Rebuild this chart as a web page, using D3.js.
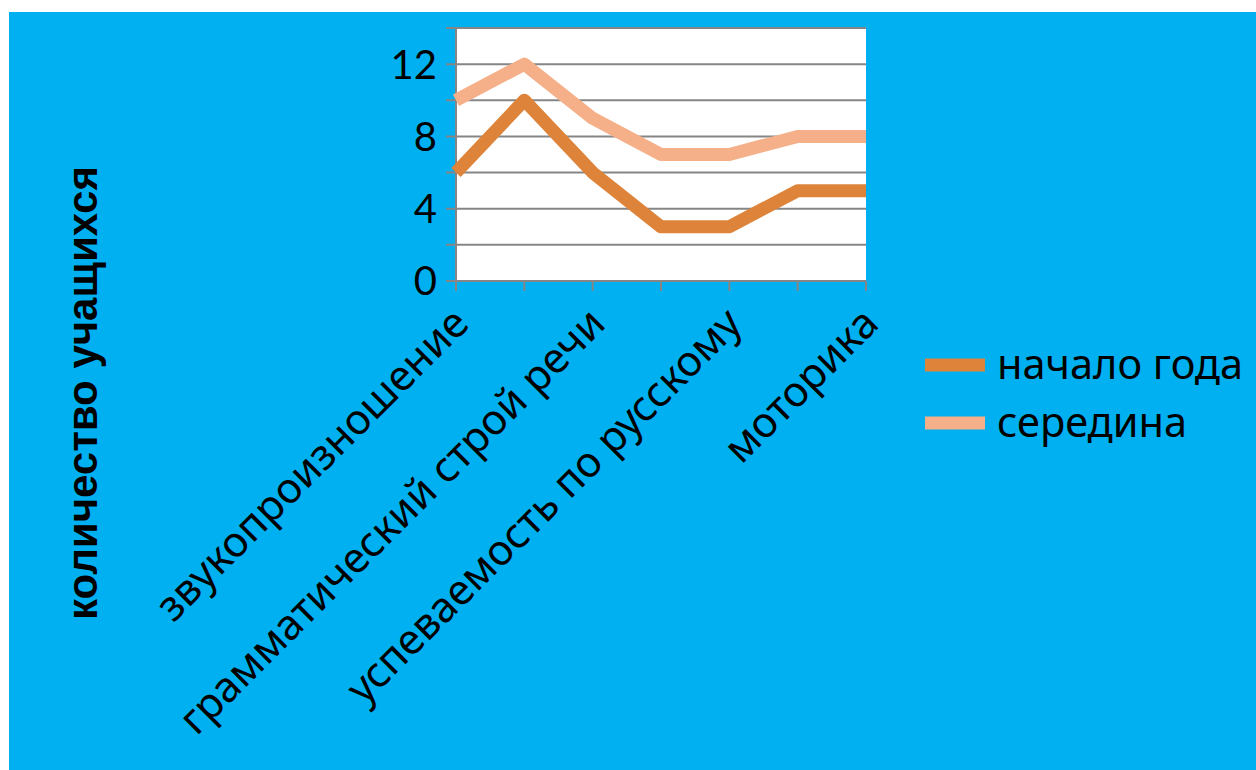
<!DOCTYPE html>
<html>
<head>
<meta charset="utf-8">
<script src="https://cdn.jsdelivr.net/npm/d3@7"></script>
<style>
  body { margin: 0; background: #fff; }
  svg { display: block; }
</style>
</head>
<body>
<script>
// categories (only every second one is labelled in the original)
var categories = ["звукопроизношение", "", "грамматический строй речи", "",
                  "успеваемость по русскому", "", "моторика"];
var seriesNames = ["начало года", "середина"];
var startValues = [6, 10, 6, 3, 3, 5, 5];
var midValues   = [10, 12, 9, 7, 7, 8, 8];
var yTicks = [0, 2, 4, 6, 8, 10, 12, 14];
var yLabels = [0, 4, 8, 12];

var width = 1256, height = 770;
var colors = ["#DD843A", "#F5B08A"];

var svg = d3.select("body").append("svg")
  .attr("width", width)
  .attr("height", height);

// blue background
svg.append("rect")
  .attr("x", 9).attr("y", 12)
  .attr("width", width - 9).attr("height", height - 12)
  .attr("fill", "#00B0F0");

var plot = { left: 456, right: 866, top: 28, bottom: 281 };

var x = d3.scalePoint()
  .domain(d3.range(categories.length))
  .range([plot.left, plot.right]);

var y = d3.scaleLinear()
  .domain([0, 14])
  .range([plot.bottom, plot.top]);

// plot area
svg.append("rect")
  .attr("x", plot.left).attr("y", plot.top)
  .attr("width", plot.right - plot.left)
  .attr("height", plot.bottom - plot.top)
  .attr("fill", "#fff");

// gridlines + y ticks
svg.selectAll("line.grid")
  .data(yTicks)
  .enter()
  .append("line")
  .attr("class", "grid")
  .attr("x1", plot.left - 10)
  .attr("x2", plot.right)
  .attr("y1", function(d) { return y(d); })
  .attr("y2", function(d) { return y(d); })
  .attr("stroke", "#868686")
  .attr("stroke-width", 2);

// y axis line
svg.append("line")
  .attr("x1", plot.left).attr("x2", plot.left)
  .attr("y1", plot.top).attr("y2", plot.bottom + 10)
  .attr("stroke", "#868686")
  .attr("stroke-width", 2);

// x ticks
svg.selectAll("line.xtick")
  .data(d3.range(categories.length))
  .enter()
  .append("line")
  .attr("class", "xtick")
  .attr("x1", function(d) { return x(d); })
  .attr("x2", function(d) { return x(d); })
  .attr("y1", plot.bottom)
  .attr("y2", plot.bottom + 10)
  .attr("stroke", "#868686")
  .attr("stroke-width", 2);

// y labels
svg.selectAll("text.ylab")
  .data(yLabels)
  .enter()
  .append("text")
  .attr("class", "ylab")
  .attr("x", plot.left - 19)
  .attr("y", function(d) { return y(d); })
  .attr("dy", "0.36em")
  .attr("text-anchor", "end")
  .style("font-family", "Lato, 'Noto Sans', sans-serif")
  .style("font-size", "40px")
  .text(function(d) { return d; });

// category labels, rotated
svg.selectAll("text.xlab")
  .data(categories)
  .enter()
  .append("text")
  .attr("class", "xlab")
  .attr("transform", function(d, i) {
    return "translate(" + (x(i) - 6) + "," + (plot.bottom + 24) + ") rotate(-45)";
  })
  .attr("text-anchor", "end")
  .attr("dy", "0.7em")
  .style("font-family", "'Noto Sans', sans-serif")
  .style("font-size", "42px")
  .text(function(d) { return d; });

// lines
var line = d3.line()
  .x(function(d, i) { return x(i); })
  .y(function(d) { return y(d); });

var allSeries = [startValues, midValues];

// draw "середина" first so "начало года" sits over it
svg.selectAll("path.series")
  .data([1, 0])
  .enter()
  .append("path")
  .attr("class", "series")
  .attr("d", function(k) { return line(allSeries[k]); })
  .attr("fill", "none")
  .attr("stroke", function(k) { return colors[k]; })
  .attr("stroke-width", 13)
  .attr("stroke-linejoin", "round")
  .attr("stroke-linecap", "butt");

// y axis title
svg.append("text")
  .attr("transform", "translate(97,393) rotate(-90)")
  .attr("text-anchor", "middle")
  .style("font-family", "'Liberation Sans', Arial, sans-serif")
  .style("font-weight", "bold")
  .style("font-size", "42px")
  .text("количество учащихся");

// legend
var legend = svg.selectAll("g.legend")
  .data(seriesNames)
  .enter()
  .append("g")
  .attr("class", "legend")
  .attr("transform", function(d, i) { return "translate(925," + (365 + i * 58) + ")"; });

legend.append("line")
  .attr("x1", 0).attr("x2", 60)
  .attr("stroke", function(d, i) { return colors[i]; })
  .attr("stroke-width", 13);

legend.append("text")
  .attr("x", 72)
  .attr("dy", "0.33em")
  .style("font-family", "'Noto Sans', sans-serif")
  .style("font-size", "41.5px")
  .text(function(d) { return d; });
</script>
</body>
</html>
